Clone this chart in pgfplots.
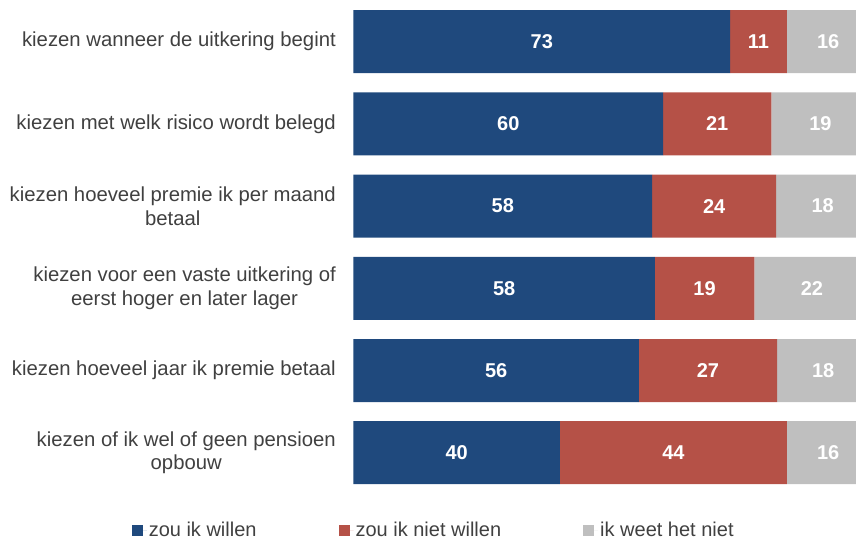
\documentclass[border=0pt]{standalone}
\usepackage{pgfplots}
\usepackage{pgfplotstable}
\pgfplotsset{compat=1.18}
\usepackage{fontspec}
\setmainfont{Liberation Sans}
\definecolor{cblue}{HTML}{1F497D}
\definecolor{cred}{HTML}{B55147}
\definecolor{cgray}{HTML}{BFBFBF}
\definecolor{ctext}{HTML}{404040}
\pgfplotsset{sqlegend/.style={legend image code/.code={\fill[##1] (0pt,-5.5pt) rectangle (11pt,5.5pt); \path (11pt,0pt) -- (15pt,0pt);}}}

\pgfplotstableread{
y willen niet weet
0 73 11 16
1 60 21 19
2 57.9 24 18.1
3 58.4 19.3 22.3
4 55.3 26.8 17.9
5 40 44 16
}\bars

\pgfplotstableread{
x y label
36.5 0 73
78.5 0 11
92 0 16
30 1 60
70.5 1 21
90.5 1 19
28.95 2 58
69.9 2 24
90.95 2 18
29.2 3 58
68.05 3 19
88.85 3 22
27.65 4 56
68.7 4 27
91.05 4 18
20 5 40
62 5 44
92 5 16
}\labels

\begin{document}
\begin{tikzpicture}
\begin{axis}[
  at={(0,0)}, anchor=south west,
  scale only axis,
  width=502.5pt, height=493.2pt,
  xbar stacked, bar width=63pt,
  xmin=0, xmax=97.4,
  ymin=-0.5, ymax=5.5, y dir=reverse,
  axis line style={draw=none},
  xtick=\empty,
  ytick={0,1,2,3,4,5},
  yticklabels={
    {kiezen wanneer de uitkering begint},
    {kiezen met welk risico wordt belegd},
    {kiezen hoeveel premie ik per maand\\betaal},
    {kiezen voor een vaste uitkering of\\eerst hoger en later lager},
    {kiezen hoeveel jaar ik premie betaal},
    {kiezen of ik wel of geen pensioen\\opbouw}},
  major tick length=0pt,
  ytick style={draw=none},
  yticklabel style={font=\fontsize{20.3}{23.5}\selectfont, text=ctext, align=center, inner sep=0pt, xshift=-17.5pt},
  legend columns=3,
  legend style={draw=none, fill=none, at={(0.1596,-0.0744)}, anchor=center,
    font=\fontsize{20}{23}\selectfont, text=ctext,
    /tikz/every even column/.append style={column sep=80pt}},
]
\addplot[fill=cblue, draw=none, sqlegend] table[x=willen, y=y] {\bars};
\addlegendentry{zou ik willen}
\addplot[fill=cred, draw=none, sqlegend] table[x=niet, y=y] {\bars};
\addlegendentry{zou ik niet willen}
\addplot[fill=cgray, draw=none, sqlegend] table[x=weet, y=y] {\bars};
\addlegendentry{ik weet het niet}
\end{axis}
\begin{axis}[
  at={(0,0)}, anchor=south west,
  scale only axis,
  width=502.5pt, height=493.2pt,
  xmin=0, xmax=97.4,
  ymin=-0.5, ymax=5.5, y dir=reverse,
  hide axis, clip=false,
]
\addplot[draw=none, mark=none, point meta=explicit symbolic,
  nodes near coords={\pgfplotspointmeta},
  every node near coord/.style={anchor=center, text=white, font=\fontsize{20}{22}\selectfont\bfseries}]
  table[x=x, y=y, meta=label] {\labels};
\end{axis}
\pgfresetboundingbox
\path[use as bounding box] (-353.5pt,-46.2pt) rectangle (502.5pt,493.8pt);
\end{tikzpicture}
\end{document}
